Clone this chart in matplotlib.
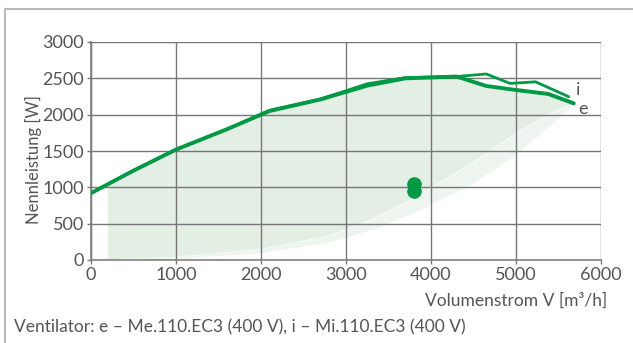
import matplotlib
matplotlib.use("Agg")
import matplotlib.pyplot as plt
from matplotlib.lines import Line2D

plt.rcParams['font.family'] = ['Lato', 'DejaVu Sans']

# Fan curve "e" (Me.110.EC3) and "i" (Mi.110.EC3): flow [m3/h] vs. power [W]
e_flow = [0, 500, 1000, 1600, 2100, 2700, 3250, 3700, 4300, 4650, 5000, 5380, 5680]
e_power = [920, 1230, 1520, 1800, 2050, 2210, 2400, 2500, 2525, 2395, 2340, 2285, 2155]
i_flow = [0, 500, 1000, 1600, 2100, 2700, 3250, 3700, 4300, 4650, 4930, 5230, 5620]
i_power = [920, 1230, 1520, 1800, 2060, 2215, 2425, 2510, 2525, 2560, 2430, 2452, 2247]

# Working range: upper edge follows curve e, two lower edges (core area and outer band)
range_top_flow = [200, 500, 1000, 1600, 2100, 2700, 3250, 3700, 4300, 4650, 5000, 5380, 5680]
range_top_power = [1040, 1230, 1520, 1800, 2050, 2210, 2400, 2500, 2525, 2395, 2340, 2285, 2155]
range_low_flow = [200, 1000, 2000, 2800, 3300, 3800, 4500, 5000, 5400, 5680]
range_low_power = [10, 45, 150, 340, 560, 860, 1350, 1750, 2020, 2155]
band_low_power = [0, 25, 100, 250, 420, 650, 1060, 1460, 1850, 2155]

# Operating points
op_flow = [3800, 3800]
op_power = [1050, 950]

green = '#009a44'
grid_c = '#777777'
text_c = '#555555'

fig = plt.figure(figsize=(6.33, 3.43), dpi=100)
ax = fig.add_axes([91 / 633, 1 - 260 / 343, 510 / 633, 218 / 343])

ax.fill_between(range_low_flow, band_low_power, range_low_power, color='#eef5ef', lw=0, zorder=1)
ax.fill(range_top_flow + range_low_flow[::-1], range_top_power + range_low_power[::-1],
        color='#e3eee5', lw=0, zorder=1)

ax.set_xlim(0, 6000)
ax.set_ylim(0, 3000)
ax.set_xticks(range(0, 6001, 1000))
ax.set_yticks(range(0, 3001, 500))
ax.grid(True, color=grid_c, lw=1.0, zorder=2)
ax.set_axisbelow(False)

ax.plot(i_flow, i_power, color=green, lw=2.0, zorder=4, solid_capstyle='round')
ax.plot(e_flow, e_power, color=green, lw=2.8, zorder=5, solid_capstyle='round')
ax.plot(op_flow, op_power, 'o', color=green, ms=10.5, mew=0, zorder=6)

for s in ['top', 'right']:
    ax.spines[s].set_visible(False)
for s in ['left', 'bottom']:
    ax.spines[s].set_color('#999999')
    ax.spines[s].set_linewidth(1.5)

ax.tick_params(axis='both', colors=grid_c, labelcolor=text_c, labelsize=13, length=3, width=1)
ax.tick_params(axis='x', pad=2)
ax.tick_params(axis='y', pad=2)

ax.text(5700, 2340, 'i', color=text_c, fontsize=13, ha='left', va='center', zorder=7)
ax.text(5730, 2080, 'e', color=text_c, fontsize=13, ha='left', va='center', zorder=7)

fig.text(33 / 633, 1 - 160 / 343, 'Nennleistung [W]', rotation=90, ha='center', va='center',
         color=text_c, fontsize=12)
fig.text(607 / 633, 1 - 301 / 343, 'Volumenstrom V [m³/h]', ha='right', va='center',
         color=text_c, fontsize=12.5)
fig.text(14 / 633, 1 - 327 / 343, 'Ventilator: e – Me.110.EC3 (400 V), i – Mi.110.EC3 (400 V)',
         ha='left', va='center', color=text_c, fontsize=12.5)

# Outer frame
fig.add_artist(Line2D([5 / 633, 1.0], [1 - 9 / 343, 1 - 9 / 343], color='#bbbbbb', lw=1.5))
fig.add_artist(Line2D([5 / 633, 5 / 633], [0, 1 - 9 / 343], color='#bbbbbb', lw=1.5))

fig.savefig('out.png', dpi=100)
